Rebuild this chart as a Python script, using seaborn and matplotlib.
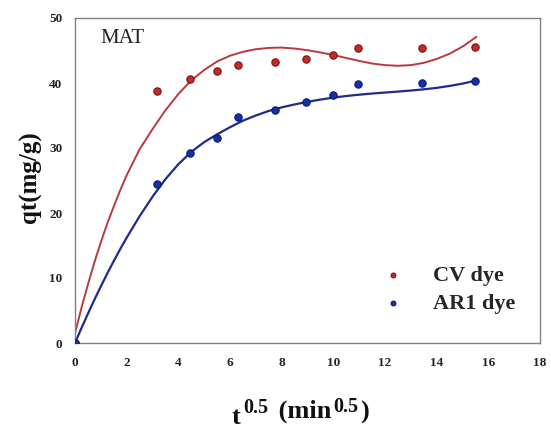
import matplotlib
matplotlib.use("Agg")
import matplotlib.pyplot as plt
import seaborn as sns
import pandas as pd

# ---- data ----
t_sqrt = [0, 3.16, 4.47, 5.48, 6.32, 7.75, 8.94, 10.0, 10.95, 13.42, 15.49]
cv_qt = [0, 38.7, 40.6, 41.9, 42.7, 43.2, 43.7, 44.3, 45.4, 45.4, 45.5]
ar1_qt = [0, 24.5, 29.3, 31.6, 34.7, 35.9, 37.1, 38.2, 39.9, 40.0, 40.3]

# fitted curves
fit_x = [0, 0.25, 0.5, 0.75, 1.0, 1.25, 1.5, 1.75, 2.0, 2.5, 3.0, 3.5, 4.0, 4.5, 5.0,
         5.5, 6.0, 6.5, 7.0, 7.5, 8.0, 8.5, 9.0, 9.5, 10.0, 10.5, 11.0, 11.5, 12.0,
         12.5, 13.0, 13.5, 14.0, 14.5, 15.0, 15.54]
cv_fit_y = [1.5, 5.4, 9.0, 12.4, 15.5, 18.4, 21.0, 23.5, 25.8, 29.8, 32.9, 35.8, 38.3,
            40.4, 42.0, 43.3, 44.2, 44.8, 45.2, 45.4, 45.45, 45.3, 45.05, 44.7, 44.3,
            43.85, 43.4, 43.0, 42.75, 42.65, 42.75, 43.1, 43.7, 44.5, 45.6, 47.1]
ar1_fit_y = [0, 2.3, 4.5, 6.65, 8.7, 10.7, 12.6, 14.45, 16.2, 19.5, 22.5, 25.2, 27.5,
             29.4, 30.9, 32.1, 33.2, 34.2, 35.0, 35.7, 36.25, 36.7, 37.1, 37.45, 37.75,
             38.0, 38.2, 38.38, 38.53, 38.68, 38.84, 39.03, 39.25, 39.55, 39.9, 40.4]

x_ticks = [0, 2, 4, 6, 8, 10, 12, 14, 16, 18]
y_ticks = [0, 10, 20, 30, 40, 50]

sns.set_style("white")
plt.rcParams["font.family"] = ["Liberation Serif", "DejaVu Serif"]

fig = plt.figure(figsize=(5.51, 4.30), dpi=100)
ax = fig.add_axes([75 / 551, 87 / 430, 465 / 551, 325 / 430])

red_line = "#b83a40"
blue_line = "#1f2b8c"
red_pt = "#c42a2a"
blue_pt = "#1530a8"

sns.lineplot(x=fit_x, y=cv_fit_y, ax=ax, color=red_line, lw=1.4, sort=False)
sns.lineplot(x=fit_x, y=ar1_fit_y, ax=ax, color=blue_line, lw=1.6, sort=False)

df = pd.DataFrame({"x": t_sqrt * 2, "y": cv_qt + ar1_qt,
                   "dye": ["CV dye"] * len(t_sqrt) + ["AR1 dye"] * len(t_sqrt)})
sns.scatterplot(data=df[df.dye == "CV dye"], x="x", y="y", ax=ax, color=red_pt,
                edgecolor="#7a1010", linewidth=0.8, s=28, zorder=5, label="CV dye")
sns.scatterplot(data=df[df.dye == "AR1 dye"], x="x", y="y", ax=ax, color=blue_pt,
                edgecolor="#0c1a70", linewidth=0.8, s=28, zorder=5, label="AR1 dye")

ax.set_xlim(0, 18)
ax.set_ylim(0, 50)
ax.set_xticks(x_ticks)
ax.set_yticks(y_ticks)
ax.tick_params(axis="both", direction="out", length=4, width=0.9, colors="#707070",
               labelcolor="#222222", labelsize=9.5)
ax.tick_params(axis="x", pad=6)
ax.tick_params(axis="y", pad=5)
for lab in ax.get_xticklabels() + ax.get_yticklabels():
    lab.set_fontweight("bold")
for sp in ax.spines.values():
    sp.set_visible(True)
    sp.set_color("#808080")
    sp.set_linewidth(1.0)

ax.set_xlabel("")
ax.set_ylabel("qt(mg/g)", fontsize=18, fontweight="bold", color="#111111")
ax.yaxis.set_label_coords(-0.07, 0.51)

# x-axis label built from pieces: t^0.5 (min^0.5)
big, small = 19, 14.5
lab_kw = dict(fontweight="bold", va="baseline", ha="left", color="#111111",
              textcoords="offset points", annotation_clip=False)
t1 = fig.text(232 / 551, 6 / 430, "t", fontsize=big, fontweight="bold",
              va="baseline", ha="left", color="#111111")
s1 = ax.annotate("0.5", xy=(1, 0), xycoords=t1, xytext=(1.5, 11.2), fontsize=small, **lab_kw)
m1 = ax.annotate(" (min", xy=(1, 0), xycoords=s1, xytext=(3, 0.4), fontsize=big, **lab_kw)
s2 = ax.annotate("0.5", xy=(1, 0), xycoords=m1, xytext=(1.5, 8.3), fontsize=small, **lab_kw)
ax.annotate(")", xy=(1, 0), xycoords=s2, xytext=(1.0, -1.1), fontsize=big, **lab_kw)

ax.text(1.0, 46.15, "MAT", fontsize=15, va="baseline", ha="left", color="#222222")

leg = ax.legend(loc="upper left", bbox_to_anchor=(0.637, 0.240), frameon=False,
                borderpad=0, borderaxespad=0, handlelength=2.0,
                handletextpad=0.8, labelspacing=0.35, markerscale=0.65,
                prop={"family": "Liberation Serif", "weight": "bold", "size": 16})

fig.savefig("out.png", dpi=100)
